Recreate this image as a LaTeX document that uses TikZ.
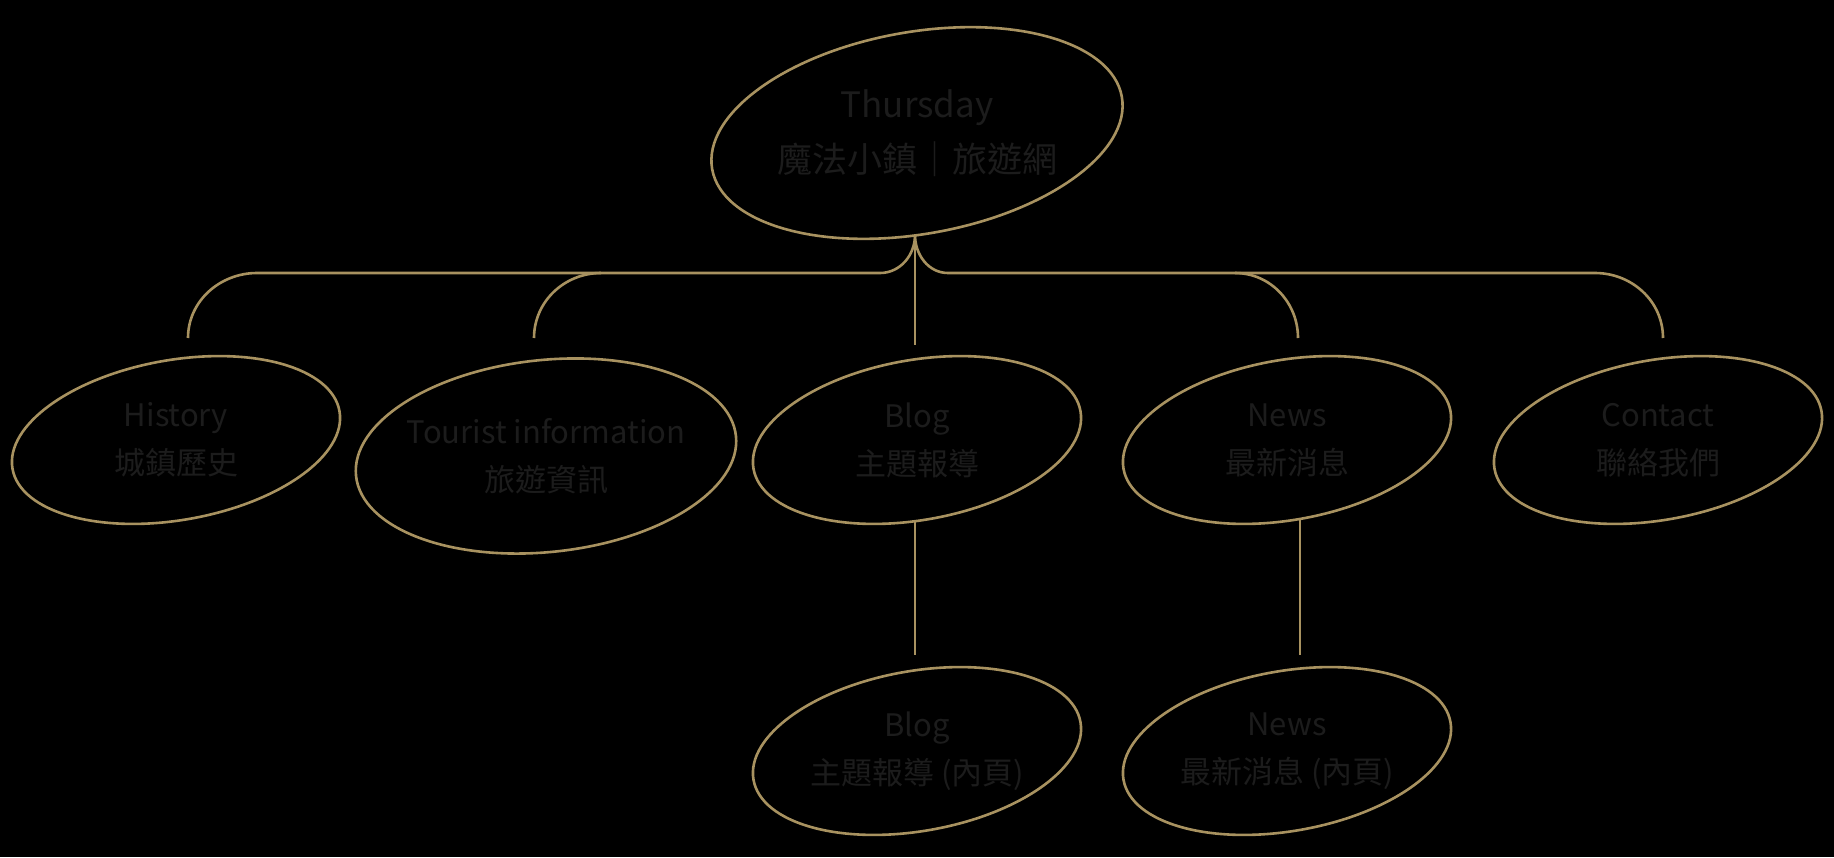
\documentclass[tikz,border=0pt]{standalone}
\usepackage{fontspec}
\usetikzlibrary{shapes.geometric}
\newfontfamily\cjk{Noto Sans CJK TC}
\definecolor{gold}{RGB}{168,146,96}
\definecolor{ink}{RGB}{28,28,28}
\begin{document}
\begin{tikzpicture}[x=1pt,y=-1pt,
  oval/.style={draw=gold, line width=2.6pt, ellipse, inner sep=0pt,
    minimum width=332pt, minimum height=160pt, rotate=10},
  lbl/.style={text=ink, align=center, inner sep=0pt,
    font=\cjk\fontsize{31}{48}\selectfont},
  toplbl/.style={text=ink, align=center, inner sep=0pt,
    font=\cjk\fontsize{35}{55}\selectfont},
  conn/.style={draw=gold, line width=2.6pt},
  thin/.style={draw=gold, line width=2pt}]
\fill[black] (0,0) rectangle (1834,857);
\useasboundingbox (0,0) rectangle (1834,857);

% ellipses
\node[oval, minimum width=416pt, minimum height=202pt] (top) at (917,133) {};
\node[oval] (hist) at (176,440) {};
\node[oval, minimum width=382pt, minimum height=192pt, rotate=-4] (tour) at (546,456) {};
\node[oval] (blog) at (917,440) {};
\node[oval] (news) at (1287,440) {};
\node[oval] (cont) at (1658,440) {};
\node[oval] (blogin) at (917,751) {};
\node[oval] (newsin) at (1287,751) {};

% labels
\node[toplbl] (ttop) at (top.center) {Thursday\\魔法小鎮｜旅遊網};
\node[lbl] (thist) at (hist.center) {History\\城鎮歷史};
\node[lbl] (ttour) at (tour.center) {Tourist information\\旅遊資訊};
\node[lbl] (tblog) at (blog.center) {Blog\\主題報導};
\node[lbl] (tnews) at (news.center) {News\\最新消息};
\node[lbl] (tcont) at (cont.center) {Contact\\聯絡我們};
\node[lbl] (tblogin) at (blogin.center) {Blog\\主題報導 (內頁)};
\node[lbl] (tnewsin) at (newsin.center) {News\\最新消息 (內頁)};

% connector points
\coordinate (J) at (915,235);
\coordinate (L1) at (880,273);
\coordinate (R1) at (948,273);
\coordinate (hA) at (257,273);
\coordinate (hB) at (188,338);
\coordinate (tA) at (601,273);
\coordinate (tB) at (534,338);
\coordinate (nA) at (1235,273);
\coordinate (nB) at (1298,338);
\coordinate (cA) at (1595,273);
\coordinate (cB) at (1663,338);
\coordinate (bB) at (915,345);
\coordinate (b1) at (915,520);
\coordinate (b2) at (915,655);
\coordinate (n1) at (1300,520);
\coordinate (n2) at (1300,655);

\draw[conn] (J) to[out=-90,in=0] (L1) -- (hA) to[out=180,in=90] (hB);
\draw[conn] (tA) to[out=180,in=90] (tB);
\draw[conn] (J) to[out=-90,in=180] (R1) -- (cA) to[out=0,in=90] (cB);
\draw[conn] (nA) to[out=0,in=90] (nB);
\draw[thin] (J) -- (bB);
\draw[thin] (b1) -- (b2);
\draw[thin] (n1) -- (n2);
\end{tikzpicture}
\end{document}
